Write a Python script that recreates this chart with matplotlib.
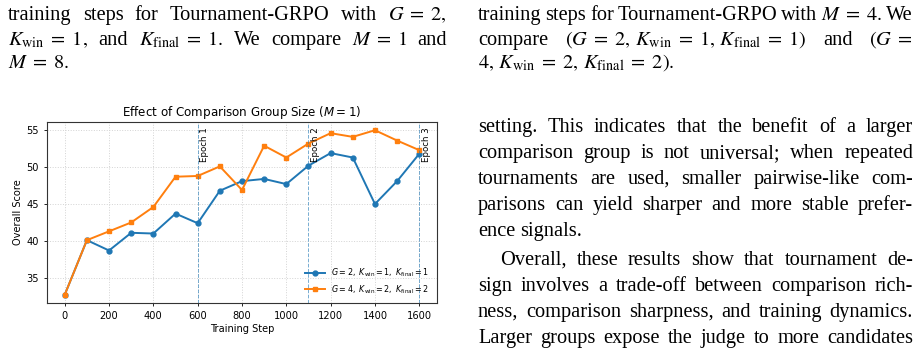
import matplotlib
matplotlib.use('Agg')
import matplotlib.pyplot as plt

# chart data
steps = [0, 100, 200, 300, 400, 500, 600, 700, 800, 900, 1000, 1100, 1200, 1300, 1400, 1500, 1600]
g2_scores = [32.7, 40.1, 38.7, 41.1, 41.0, 43.7, 42.4, 46.8, 48.1, 48.4, 47.7, 50.2, 51.9, 51.3, 45.0, 48.1, 51.8]
g4_scores = [32.7, 40.1, 41.3, 42.5, 44.6, 48.7, 48.8, 50.1, 46.9, 52.9, 51.3, 53.2, 54.6, 54.1, 55.0, 53.6, 52.3]
epoch_steps = [600, 1100, 1600]
epoch_labels = ['Epoch 1', 'Epoch 2', 'Epoch 3']

# surrounding page text (words are split on plain spaces, so math uses \; only)
left_caption = [
    'training steps for Tournament-GRPO with $G\\;=\\;2,$',
    '$K_{\\mathrm{win}}\\;=\\;1,$ and $K_{\\mathrm{final}}\\;=\\;1.$ We compare $M\\;=\\;1$ and',
    '$M\\;=\\;8.$',
]
right_caption = [
    'training steps for Tournament-GRPO with $M\\;=\\;4.$ We',
    'compare $(G\\;=\\;2,\\,K_{\\mathrm{win}}\\;=\\;1,\\,K_{\\mathrm{final}}\\;=\\;1)$ and $(G\\;=$',
    '$4,\\,K_{\\mathrm{win}}\\;=\\;2,\\,K_{\\mathrm{final}}\\;=\\;2).$',
]
paragraph = [
    'setting. This indicates that the benefit of a larger',
    'comparison group is not universal; when repeated',
    'tournaments are used, smaller pairwise-like com-',
    'parisons can yield sharper and more stable prefer-',
    'ence signals.',
    'Overall, these results show that tournament de-',
    'sign involves a trade-off between comparison rich-',
    'ness, comparison sharpness, and training dynamics.',
    'Larger groups expose the judge to more candidates',
]

W, H = 923, 363
fig = plt.figure(figsize=(W / 100, H / 100), dpi=100)
renderer = fig.canvas.get_renderer()


def put_line(line, x0, y, x1=None, size=14.7):
    # place one line of page text, justified when x1 is given
    words = line.split(' ')
    texts = [fig.text(0, 0, w, fontsize=size, family='Liberation Serif',
                      math_fontfamily='stix', va='baseline', ha='left')
             for w in words]
    widths = [t.get_window_extent(renderer).width for t in texts]
    if x1 is not None and len(words) > 1:
        gap = (x1 - x0 - sum(widths)) / (len(words) - 1)
    else:
        gap = size * 0.25 * 100 / 72
    x = x0
    for t, w in zip(texts, widths):
        t.set_position((x / W, 1 - y / H))
        x += w + gap


for i, (line, y) in enumerate(zip(left_caption, [20, 45, 68])):
    put_line(line, 8, y, 447 if i < 2 else None)
for i, (line, y) in enumerate(zip(right_caption, [20, 45, 68])):
    put_line(line, 478, y, 913 if i < 2 else None)
para_y = [132, 158, 184, 210, 236, 265, 291, 317, 343]
for i, (line, y) in enumerate(zip(paragraph, para_y)):
    x0 = 500 if i == 5 else 478
    put_line(line, x0, y, None if i == 4 else 913)

# chart
ax = fig.add_axes([47 / W, 1 - 303 / H, 390 / W, 181 / H])
ax.plot(steps, g2_scores, marker='o', color='tab:blue', lw=1.4, ms=3.5,
        label='$G=2,\\ K_{\\mathrm{win}}=1,\\ K_{\\mathrm{final}}=1$')
ax.plot(steps, g4_scores, marker='s', color='tab:orange', lw=1.4, ms=3.5,
        label='$G=4,\\ K_{\\mathrm{win}}=2,\\ K_{\\mathrm{final}}=2$')
for s, lab in zip(epoch_steps, epoch_labels):
    ax.axvline(s, color='tab:blue', ls='--', lw=0.7, alpha=0.6)
    ax.text(s + 12, 0.97, lab, rotation=90, va='top', ha='left', fontsize=6.2,
            transform=ax.get_xaxis_transform())

ax.grid(True, ls=':', color='lightgray', lw=0.7)
ax.set_xticks(range(0, 1601, 200))
ax.set_yticks([35, 40, 45, 50, 55])
ax.tick_params(labelsize=7.1, length=2.5, width=0.6)
for sp in ax.spines.values():
    sp.set_color('#333333')
    sp.set_linewidth(0.8)
ax.set_xlabel('Training Step', fontsize=7.1, labelpad=2)
ax.set_ylabel('Overall Score', fontsize=7.1, labelpad=2)
ax.set_title('Effect of Comparison Group Size ($M=1$)', fontsize=8.6, pad=4)
ax.legend(loc='lower right', fontsize=5.8, frameon=False, handlelength=2.5)

fig.savefig('out.png', dpi=100)
